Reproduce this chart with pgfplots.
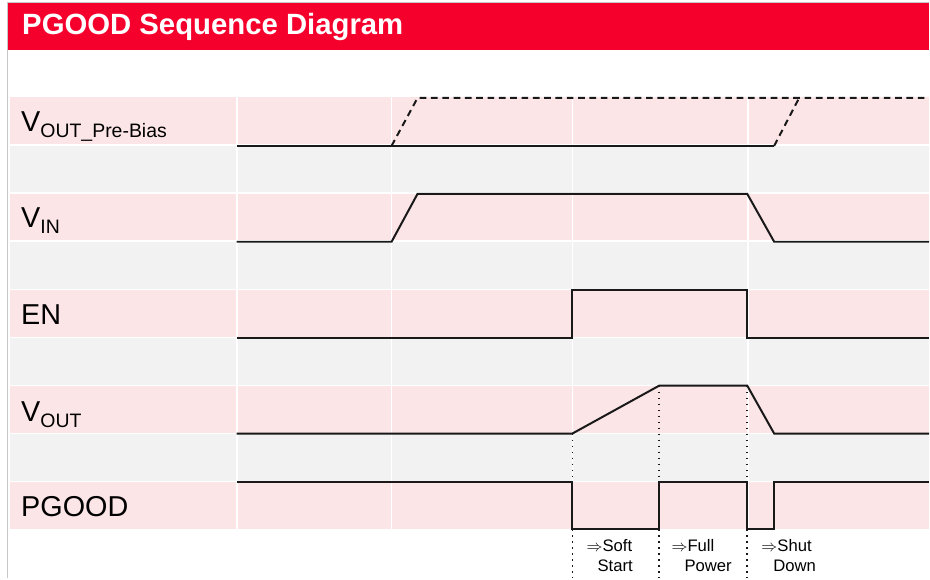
\documentclass[border=0pt]{standalone}
\usepackage{pgfplots}
\pgfplotsset{compat=1.18}
\usepackage{fontspec}
\setmainfont{Liberation Sans}
\definecolor{titlered}{RGB}{245,0,45}
\definecolor{rowpink}{RGB}{252,229,231}
\definecolor{rowgrey}{RGB}{242,242,242}
\definecolor{sig}{RGB}{25,25,25}
\definecolor{bord}{RGB}{200,200,200}
\tikzset{
  lab/.style={anchor=base west, inner sep=0pt, font=\fontsize{21.6}{25}\selectfont},
  ann/.style={anchor=base west, inner sep=0pt, font=\fontsize{12.5}{15}\selectfont},
}
\begin{document}
\begin{tikzpicture}
\begin{axis}[
  width=697.5pt, height=434.25pt, scale only axis,
  xmin=0, xmax=930, ymin=0, ymax=579, y dir=reverse,
  hide axis, clip=false,
  every axis plot/.append style={no markers, sig, line width=1.5pt, line join=miter},
]
% page background and frame
\fill[white] (0,0) rectangle (930,579);
\draw[bord, line width=0.75pt] (7.5,579) -- (7.5,2.5) -- (930,2.5);
\fill[titlered] (8,3) rectangle (930,50);
\node[anchor=base west, inner sep=0pt, text=white, font=\fontsize{22}{26}\selectfont\bfseries] at (22,35) {PGOOD Sequence Diagram};
% row bands
\fill[rowpink] (10,97) rectangle (930,145);
\fill[rowgrey] (10,145) rectangle (930,193);
\fill[rowpink] (10,193) rectangle (930,241);
\fill[rowgrey] (10,241) rectangle (930,290);
\fill[rowpink] (10,290) rectangle (930,338);
\fill[rowgrey] (10,338) rectangle (930,386);
\fill[rowpink] (10,386) rectangle (930,434);
\fill[rowgrey] (10,434) rectangle (930,482);
\fill[rowpink] (10,482) rectangle (930,530);
% white grid lines
\draw[white, line width=1.2pt] (10,145) -- (930,145);
\draw[white, line width=1.2pt] (10,193) -- (930,193);
\draw[white, line width=1.2pt] (10,241) -- (930,241);
\draw[white, line width=1.2pt] (10,290) -- (930,290);
\draw[white, line width=1.2pt] (10,338) -- (930,338);
\draw[white, line width=1.2pt] (10,386) -- (930,386);
\draw[white, line width=1.2pt] (10,434) -- (930,434);
\draw[white, line width=1.2pt] (10,482) -- (930,482);
\draw[white, line width=1.2pt] (237,97) -- (237,530);
\draw[white, line width=1.2pt] (392,97) -- (392,530);
\draw[white, line width=1.2pt] (573,97) -- (573,530);
\draw[white, line width=1.2pt] (749,97) -- (749,530);
% labels
\node[lab] at (21,132) {V\raisebox{-4.5pt}{\fontsize{14.6}{17}\selectfont OUT\_Pre-Bias}};
\node[lab] at (21,228) {V\raisebox{-4.5pt}{\fontsize{14.6}{17}\selectfont IN}};
\node[lab] at (21,325) {EN};
\node[lab] at (21,421.5) {V\raisebox{-4.5pt}{\fontsize{14.6}{17}\selectfont OUT}};
\node[lab] at (21,517) {PGOOD};
% VOUT pre-bias
\addplot[sig, solid] coordinates {(237,146) (775,146)};
\addplot[sig, dash pattern=on 5pt off 3.5pt] coordinates {(392,146) (418,98) (930,98)};
\addplot[sig, dash pattern=on 5pt off 3.5pt] coordinates {(775,146) (800,98)};
% VIN
\addplot[sig, solid] coordinates {(237,242) (392,242) (418,194) (748,194) (775,242) (930,242)};
% EN
\addplot[sig, solid] coordinates {(237,338) (573,338) (573,290) (748,290) (748,338) (930,338)};
% VOUT
\addplot[sig, solid] coordinates {(237,434) (573,434) (660,386) (748,386) (775,434) (930,434)};
% PGOOD
\addplot[sig, solid] coordinates {(237,482.5) (573,482.5) (573,530) (660,530) (660,482.5) (748,482.5) (748,530) (775,530) (775,482.5) (930,482.5)};
% dotted markers
\addplot[sig, line width=1.3pt, dash pattern=on 1.3pt off 3.2pt] coordinates {(573,434) (573,579)};
\addplot[sig, line width=1.3pt, dash pattern=on 1.3pt off 3.2pt] coordinates {(660,386) (660,579)};
\addplot[sig, line width=1.3pt, dash pattern=on 1.3pt off 3.2pt] coordinates {(748,386) (748,579)};
% annotations
\node[ann] at (587,552) {$\Rightarrow$Soft};
\node[ann] at (598,572) {Start};
\node[ann] at (672,552) {$\Rightarrow$Full};
\node[ann] at (685,572) {Power};
\node[ann] at (762,552) {$\Rightarrow$Shut};
\node[ann] at (774,572) {Down};
\end{axis}
\end{tikzpicture}
\end{document}
